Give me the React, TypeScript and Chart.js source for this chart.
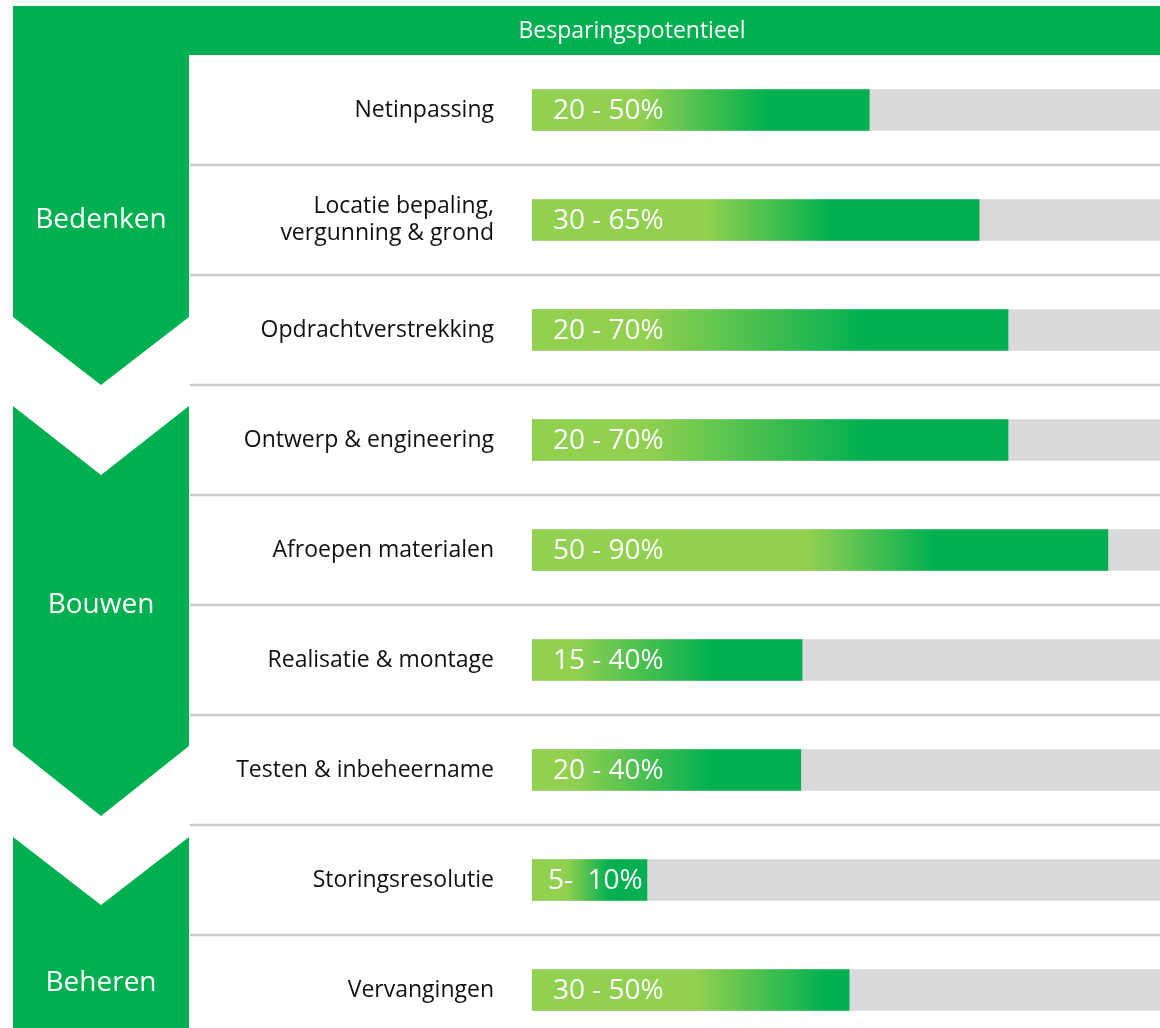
import React, { useEffect, useRef } from "react";
import { Chart, registerables } from "chart.js";

Chart.register(...registerables);

// ---------- data ----------
const categories: (string | string[])[] = [
  "Netinpassing",
  ["Locatie bepaling,", "vergunning & grond"],
  "Opdrachtverstrekking",
  "Ontwerp & engineering",
  "Afroepen materialen",
  "Realisatie & montage",
  "Testen & inbeheername",
  "Storingsresolutie",
  "Vervangingen",
];
const rangeLabels = [
  "20 - 50%",
  "30 - 65%",
  "20 - 70%",
  "20 - 70%",
  "50 - 90%",
  "15 - 40%",
  "20 - 40%",
  "5-  10%",
  "30 - 50%",
];
// bar length (share of the full track)
const barLengths = [53.7, 71.2, 75.8, 75.8, 91.7, 43.0, 42.8, 18.3, 50.5];
const trackMax = 100;
const headerTitle = "Besparingspotentieel";
const phases = ["Bedenken", "Bouwen", "Beheren"];

// ---------- style ----------
const GREEN = "#00B050";
const LIGHT = "#92D050";
const TRACK = "#D9D9D9";
const SEP = "#C9C9C9";
const FONT = "'Open Sans', 'Noto Sans', sans-serif";
const lightStops = [0.32, 0.39, 0.24, 0.24, 0.48, 0.15, 0.15, 0.3, 0.52];
const darkStops = [0.7, 0.67, 0.7, 0.7, 0.7, 0.67, 0.67, 0.68, 0.93];
const labelInsets = [21, 21, 21, 21, 21, 21, 21, 16, 21];

const W = 1160;
const H = 1045;

const decorPlugin = {
  id: "decor",
  beforeDraw(chart: any) {
    const c = chart.ctx;
    const ys = chart.scales.y;
    c.save();
    // header band
    c.fillStyle = GREEN;
    c.fillRect(13, 6, W - 13, 49);
    // chevrons
    const L = 13, R = 189, M = 101;
    const poly = (pts: number[][]) => {
      c.beginPath();
      c.moveTo(pts[0][0], pts[0][1]);
      for (let i = 1; i < pts.length; i++) c.lineTo(pts[i][0], pts[i][1]);
      c.closePath();
      c.fill();
    };
    poly([[L, 6], [R, 6], [R, 317], [M, 385], [L, 317]]);
    poly([[L, 406], [M, 475], [R, 406], [R, 746], [M, 816], [L, 746]]);
    poly([[L, 837], [M, 905], [R, 837], [R, H], [L, H]]);
    // separators between rows
    c.strokeStyle = SEP;
    c.lineWidth = 2.5;
    for (let k = 1; k < categories.length; k++) {
      const y = (ys.getPixelForValue(k - 1) + ys.getPixelForValue(k)) / 2;
      c.beginPath();
      c.moveTo(190, y);
      c.lineTo(W, y);
      c.stroke();
    }
    // texts
    c.fillStyle = "#FFFFFF";
    c.textAlign = "center";
    c.textBaseline = "middle";
    c.font = `23px ${FONT}`;
    c.fillText(headerTitle, 632, 31);
    c.font = `28px ${FONT}`;
    const phaseY = [220, 605, 983];
    phases.forEach((p, i) => c.fillText(p, M, phaseY[i]));
    c.restore();
  },
};

const barLabelPlugin = {
  id: "barLabels",
  afterDatasetsDraw(chart: any) {
    const c = chart.ctx;
    const meta = chart.getDatasetMeta(0);
    c.save();
    c.fillStyle = "#FFFFFF";
    c.textAlign = "left";
    c.textBaseline = "middle";
    c.font = `28px ${FONT}`;
    meta.data.forEach((el: any, i: number) => {
      c.fillText(rangeLabels[i], el.base + labelInsets[i], el.y + 1);
    });
    c.restore();
  },
};

export default function App() {
  const ref = useRef<HTMLCanvasElement | null>(null);

  useEffect(() => {
    if (!ref.current) return;
    const chart = new Chart(ref.current, {
      type: "bar",
      data: {
        labels: categories as any,
        datasets: [
          {
            data: barLengths,
            order: 0,
            barThickness: 41,
            borderWidth: 0,
            backgroundColor: (ctx: any) => {
              const chart = ctx.chart;
              if (ctx.type !== "data" || !chart.chartArea) return GREEN;
              const xs = chart.scales.x;
              const x0 = xs.getPixelForValue(0);
              const x1 = xs.getPixelForValue(ctx.raw);
              const g = chart.ctx.createLinearGradient(x0, 0, x1, 0);
              const i = ctx.dataIndex;
              g.addColorStop(0, LIGHT);
              g.addColorStop(lightStops[i], LIGHT);
              g.addColorStop(darkStops[i], GREEN);
              g.addColorStop(1, GREEN);
              return g;
            },
          },
          {
            data: categories.map(() => trackMax),
            order: 1,
            barThickness: 41,
            borderWidth: 0,
            backgroundColor: TRACK,
          },
        ],
      },
      options: {
        indexAxis: "y",
        responsive: false,
        animation: false,
        devicePixelRatio: 1,
        layout: { padding: { top: 55, left: 0, right: 0, bottom: 0 } },
        datasets: { bar: { grouped: false } } as any,
        plugins: {
          legend: { display: false },
          tooltip: { enabled: false },
          title: { display: false },
        },
        scales: {
          x: {
            display: false,
            min: 0,
            max: trackMax,
          },
          y: {
            type: "category",
            offset: true,
            grid: { display: false, drawTicks: false },
            border: { display: false },
            afterFit: (scale: any) => {
              scale.width = 532;
              scale.paddingTop = 0;
              scale.paddingBottom = 0;
            },
            ticks: {
              crossAlign: "near",
              padding: 38,
              color: "#111111",
              font: { family: FONT, size: 23, lineHeight: 1.2 },
            },
          },
        },
      },
      plugins: [decorPlugin, barLabelPlugin],
    } as any);
    return () => chart.destroy();
  }, []);

  return (
    <div
      style={{
        position: "absolute",
        left: 0,
        top: 0,
        width: W,
        height: 1028,
        overflow: "hidden",
        background: "#FFFFFF",
      }}
    >
      <canvas ref={ref} width={W} height={H} style={{ display: "block", width: W, height: H }} />
    </div>
  );
}
